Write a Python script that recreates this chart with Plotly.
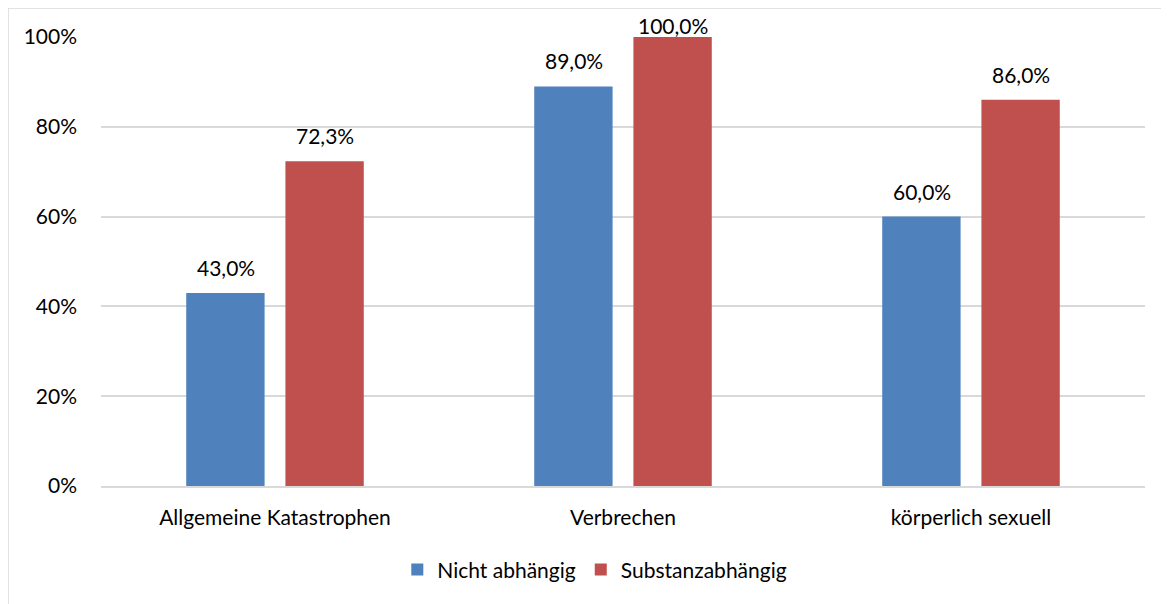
import plotly.graph_objects as go

# Data
categories = ['Allgemeine Katastrophen', 'Verbrechen', 'körperlich sexuell']
nicht_abhaengig = [0.43, 0.89, 0.60]
substanzabhaengig = [0.723, 1.00, 0.86]
series_names = ['Nicht abhängig', 'Substanzabhängig']

blue = '#4F81BD'
red = '#C0504D'
grid = '#D9D9D9'
font_family = 'Lato, Open Sans, sans-serif'
font_size = 21

fig_w, fig_h = 1161, 596
m_l, m_r, m_t, m_b = 93, 24, 29, 118
plot_h = fig_h - m_t - m_b

fig = go.Figure()

# bar groups: each series sits half a slot left / right of the category centre
slot_px = 49.5
label_gap = 11
label_box_h = 29
label_min_top = 3  # keep labels inside the chart frame, like Excel does

annotations = []
for (name, values, color), shift in zip(
    [(series_names[0], nicht_abhaengig, blue),
     (series_names[1], substanzabhaengig, red)],
    [-slot_px, slot_px],
):
    fig.add_trace(
        go.Bar(
            x=categories,
            y=values,
            name=name,
            marker=dict(color=color, line=dict(width=0)),
            hoverinfo='skip'
        )
    )
    for cat, val in zip(categories, values):
        bar_top_px = m_t + (1 - val) * plot_h
        yshift = min(label_gap, bar_top_px - label_min_top - label_box_h)
        annotations.append(dict(
            x=cat, y=val, xref='x', yref='y',
            text=f'{val * 100:.1f}%'.replace('.', ','),
            showarrow=False,
            yanchor='bottom',
            xshift=shift,
            yshift=yshift,
            font=dict(size=font_size, color='#000000', family=font_family)
        ))

fig.update_layout(
    width=fig_w,
    height=fig_h,
    margin=dict(l=m_l, r=m_r, t=m_t, b=m_b),
    paper_bgcolor='white',
    plot_bgcolor='white',
    separators=',.',
    barmode='group',
    bargap=0.43,
    bargroupgap=0.21,
    font=dict(family=font_family, size=font_size, color='#000000'),
    showlegend=True,
    legend=dict(
        orientation='h',
        x=0.473,
        xanchor='center',
        y=-0.187,
        yanchor='middle',
        font=dict(size=font_size),
        itemwidth=30,
        traceorder='normal'
    ),
    annotations=annotations,
    xaxis=dict(
        showgrid=False,
        showline=True,
        linecolor=grid,
        linewidth=2,
        ticks='',
        ticklabelstandoff=12,
        tickfont=dict(size=font_size),
        fixedrange=True
    ),
    yaxis=dict(
        range=[0, 1],
        tickvals=[0, 0.2, 0.4, 0.6, 0.8, 1.0],
        tickformat='.0%',
        showgrid=True,
        gridcolor=grid,
        gridwidth=1.5,
        zeroline=False,
        showline=False,
        ticks='',
        ticklabelstandoff=23,
        tickfont=dict(size=font_size),
        fixedrange=True
    ),
    shapes=[
        dict(
            type='rect',
            xref='paper', yref='paper',
            x0=-m_l / (fig_w - m_l - m_r), x1=1.2,
            y0=-0.4, y1=1 + m_t / plot_h,
            line=dict(color=grid, width=1.5),
            fillcolor='rgba(0,0,0,0)',
            layer='below'
        )
    ]
)

fig.write_html("out.html")
